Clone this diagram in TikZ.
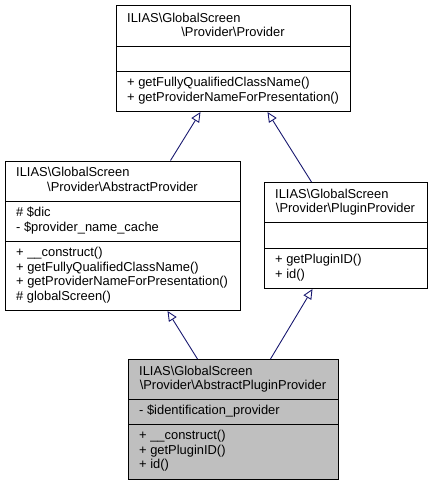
\documentclass[tikz,border=0pt]{standalone}
\usepackage{fontspec}
\setmainfont{Liberation Sans}
\usepackage{xcolor}
\usetikzlibrary{arrows.meta}
\definecolor{edgeblue}{HTML}{191970}
\definecolor{boxgray}{HTML}{BFBFBF}
\tikzset{
  classbox/.style={draw=black,line width=1pt,inner sep=0pt,anchor=north west,fill=white},
  txt/.style={inner sep=0pt,anchor=base west,font=\fontsize{12.9}{14.5}\selectfont},
  ctxt/.style={txt,anchor=base},
  inherit/.style={draw=edgeblue,line width=0.9pt,-{Triangle[open,length=10pt,width=9pt]}}
}
\begin{document}
\begin{tikzpicture}[x=1pt,y=-1pt]
    \useasboundingbox (0,0) rectangle (432,485);
    % Provider
    \node[classbox,minimum width=234pt,minimum height=106pt] (prov) at (116,5) {};
    \draw[line width=1pt] ([yshift=-41pt]prov.north west) -- ([yshift=-41pt]prov.north east);
    \draw[line width=1pt] ([yshift=-66pt]prov.north west) -- ([yshift=-66pt]prov.north east);
    \node[txt] (provT1) at (127,22) {ILIAS\textbackslash GlobalScreen};
    \node[ctxt] (provT2) at (233,36.5) {\textbackslash Provider\textbackslash Provider};
    \node[txt] (provM1) at (127,86.5) {+ getFullyQualifiedClassName()};
    \node[txt] (provM2) at (127,101) {+ getProviderNameForPresentation()};
    % AbstractProvider
    \node[classbox,minimum width=235pt,minimum height=149.5pt] (abs) at (5,160.5) {};
    \draw[line width=1pt] ([yshift=-40.5pt]abs.north west) -- ([yshift=-40.5pt]abs.north east);
    \draw[line width=1pt] ([yshift=-80.5pt]abs.north west) -- ([yshift=-80.5pt]abs.north east);
    \node[txt] (absT1) at (16,176.5) {ILIAS\textbackslash GlobalScreen};
    \node[ctxt] (absT2) at (122.5,191) {\textbackslash Provider\textbackslash AbstractProvider};
    \node[txt] (absA1) at (16,216.5) {\# \$dic};
    \node[txt] (absA2) at (16,231) {- \$provider\_name\_cache};
    \node[txt] (absM1) at (16,256.5) {+ \_\_construct()};
    \node[txt] (absM2) at (16,271) {+ getFullyQualifiedClassName()};
    \node[txt] (absM3) at (16,285.5) {+ getProviderNameForPresentation()};
    \node[txt] (absM4) at (16,300) {\# globalScreen()};
    % PluginProvider
    \node[classbox,minimum width=163pt,minimum height=106pt] (plug) at (264,182) {};
    \draw[line width=1pt] ([yshift=-40pt]plug.north west) -- ([yshift=-40pt]plug.north east);
    \draw[line width=1pt] ([yshift=-66pt]plug.north west) -- ([yshift=-66pt]plug.north east);
    \node[txt] (plugT1) at (275,198) {ILIAS\textbackslash GlobalScreen};
    \node[ctxt] (plugT2) at (345.5,212.5) {\textbackslash Provider\textbackslash PluginProvider};
    \node[txt] (plugM1) at (275,263.5) {+ getPluginID()};
    \node[txt] (plugM2) at (275,278) {+ id()};
    % AbstractPluginProvider
    \node[classbox,fill=boxgray,minimum width=210pt,minimum height=120pt] (apl) at (128,359) {};
    \draw[line width=1pt] ([yshift=-40pt]apl.north west) -- ([yshift=-40pt]apl.north east);
    \draw[line width=1pt] ([yshift=-65pt]apl.north west) -- ([yshift=-65pt]apl.north east);
    \node[txt] (aplT1) at (139,375) {ILIAS\textbackslash GlobalScreen};
    \node[ctxt] (aplT2) at (233,389.5) {\textbackslash Provider\textbackslash AbstractPluginProvider};
    \node[txt] (aplA1) at (139,414.5) {- \$identification\_provider};
    \node[txt] (aplM1) at (139,439.5) {+ \_\_construct()};
    \node[txt] (aplM2) at (139,454) {+ getPluginID()};
    \node[txt] (aplM3) at (139,468.5) {+ id()};
    % inheritance
    \draw[inherit] ([xshift=47.5pt]abs.north) -- ([xshift=-33pt]prov.south);
    \draw[inherit] ([xshift=-34.5pt]plug.north) -- ([xshift=34pt]prov.south);
    \draw[inherit] ([xshift=-36pt]apl.north) -- ([xshift=44.5pt]abs.south);
    \draw[inherit] ([xshift=37pt]apl.north) -- ([xshift=-33.5pt]plug.south);
\end{tikzpicture}
\end{document}
